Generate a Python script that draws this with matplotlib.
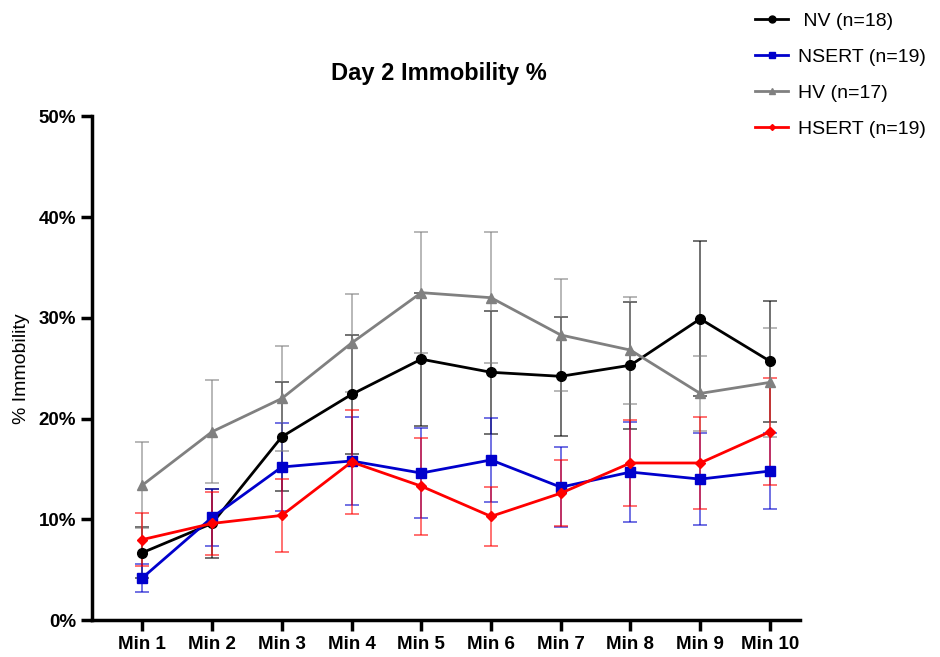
import matplotlib
matplotlib.use('Agg')
import matplotlib.pyplot as plt
from matplotlib.lines import Line2D
import numpy as np

plt.rcParams['font.family'] = ['Liberation Sans', 'DejaVu Sans']

minutes = ['Min 1', 'Min 2', 'Min 3', 'Min 4', 'Min 5', 'Min 6', 'Min 7', 'Min 8', 'Min 9', 'Min 10']

# mean % immobility and error (SEM) per group
nv_mean = [6.7, 9.6, 18.2, 22.4, 25.9, 24.6, 24.2, 25.3, 29.9, 25.7]
nv_err = [2.5, 3.4, 5.4, 5.9, 6.6, 6.1, 5.9, 6.3, 7.7, 6.0]

nsert_mean = [4.2, 10.2, 15.2, 15.8, 14.6, 15.9, 13.2, 14.7, 14.0, 14.8]
nsert_err = [1.4, 2.8, 4.4, 4.4, 4.5, 4.2, 4.0, 5.0, 4.6, 3.8]

hv_mean = [13.4, 18.7, 22.0, 27.5, 32.5, 32.0, 28.3, 26.8, 22.5, 23.6]
hv_err = [4.3, 5.1, 5.2, 4.9, 6.0, 6.5, 5.6, 5.3, 3.7, 5.4]

hsert_mean = [8.0, 9.6, 10.4, 15.7, 13.3, 10.3, 12.6, 15.6, 15.6, 18.7]
hsert_err = [2.6, 3.1, 3.6, 5.2, 4.8, 2.9, 3.3, 4.3, 4.6, 5.3]

groups = [
    (' NV (n=18)', nv_mean, nv_err, 'black', 'o', 7),
    ('NSERT (n=19)', nsert_mean, nsert_err, '#0000CC', 's', 7),
    ('HV (n=17)', hv_mean, hv_err, 'gray', '^', 7),
    ('HSERT (n=19)', hsert_mean, hsert_err, 'red', 'D', 5),
]

fig = plt.figure(figsize=(9.4, 6.57), dpi=100)
ax = fig.add_axes([0.098, 0.056, 0.753, 0.767])

x = np.arange(1, len(minutes) + 1)
handles = []
for label, mean, err, color, marker, ms in groups:
    ax.errorbar(x, mean, yerr=err, color=color, marker=marker, markersize=ms,
                linewidth=2, elinewidth=1.3, capsize=5, capthick=1.3,
                ecolor=matplotlib.colors.to_rgba(color, 0.6))
    handles.append(Line2D([], [], color=color, marker=marker, markersize=ms - 2,
                          linewidth=2, label=label))

ax.set_xlim(0.28, 10.43)
ax.set_ylim(0, 50)
ax.set_xticks(x)
ax.set_xticklabels(minutes, fontweight='bold', fontsize=13.5)
ax.set_yticks([0, 10, 20, 30, 40, 50])
ax.set_yticklabels(['0%', '10%', '20%', '30%', '40%', '50%'], fontweight='bold', fontsize=13.5)
ax.set_ylabel('% Immobility', fontsize=14, labelpad=6)
ax.set_title('Day 2 Immobility %', fontweight='bold', fontsize=17, pad=26, x=0.49)

for side in ['top', 'right']:
    ax.spines[side].set_visible(False)
for side in ['left', 'bottom']:
    ax.spines[side].set_linewidth(2.5)
ax.tick_params(width=2.5, length=8)

ax.legend(handles=handles, loc='upper left', bbox_to_anchor=(0.785, 1.008),
          bbox_transform=fig.transFigure, frameon=False, fontsize=14,
          handlelength=1.7, handletextpad=0.5, labelspacing=0.95)

plt.savefig('out.png', dpi=100, facecolor='white')
